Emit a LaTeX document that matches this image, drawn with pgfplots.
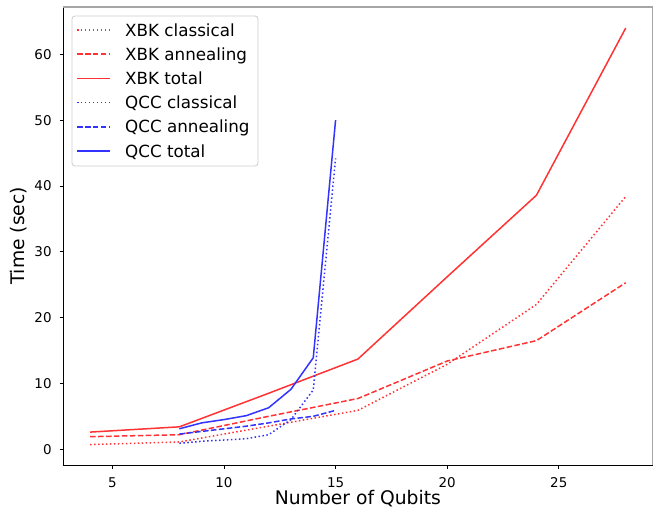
\documentclass[border=0pt]{standalone}
\usepackage{fontspec}
\setmainfont{DejaVu Sans}
\usepackage{pgfplots}
\usepackage{pgfplotstable}
\pgfplotsset{compat=1.18}
\usetikzlibrary{calc}

% pure red / blue at alpha 0.8 on white
\definecolor{mplred}{rgb}{1,0.2,0.2}
\definecolor{mplblue}{rgb}{0.2,0.2,1}

% columns: qubits, classical, annealing, total (sec)
\pgfplotstableread{
x   cl    an    tot
4   0.7   1.9   2.6
8   1.1   2.2   3.4
12  3.5   5.0   8.5
16  5.9   7.7   13.7
20  12.9  13.4  26.2
24  22.0  16.5  38.6
28  38.4  25.3  64.0
}\xbk

\pgfplotstableread{
x   cl    an    tot
8   0.9   2.3   3.1
9   1.2   2.7   4.0
10  1.4   3.1   4.5
11  1.6   3.5   5.1
12  2.2   4.0   6.3
13  4.5   4.6   9.1
14  9.0   5.0   13.9
15  44.2  5.9   50.0
}\qcc

\tikzset{
  mpl solid/.style={line width=1.5bp, solid},
  mpl dashed/.style={line width=1.5bp, dash pattern=on 5.55bp off 2.4bp},
  mpl dotted/.style={line width=1.5bp, dash pattern=on 1.5bp off 2.475bp},
  legtext/.style={anchor=base west, inner sep=0bp, font=\fontsize{16.8}{20}\selectfont},
}

\begin{document}
\begin{tikzpicture}
  \begin{axis}[
      name=ax, scale only axis, width=589.2bp, height=458bp,
      xmin=2.8, xmax=29.2, ymin=-2.4, ymax=67.2,
      axis lines*=left,
      axis line style={-, black, line width=0.8bp},
      tick pos=left, tick align=outside,
      major tick length=3.5bp,
      tick style={black, line width=0.8bp},
      xtick={5,10,...,25}, ytick={0,10,...,60},
      /pgf/number format/assume math mode=true,
      ticklabel style={font=\fontsize{13.5}{16}\selectfont, inner sep=0bp},
      xticklabel style={anchor=north, yshift=-9bp},
      yticklabel style={anchor=east, xshift=-8bp},
      xlabel={Number of Qubits},
      ylabel={Time (sec)},
      label style={font=\fontsize{18.8}{22}\selectfont, inner sep=0bp},
      xlabel style={at={(rel axis cs:0.5,0)}, anchor=north, yshift=-25bp},
      ylabel style={at={(rel axis cs:0,0.5)}, anchor=south, yshift=35.8bp},
    ]
    \addplot[draw=mplred, mpl dotted] table[x=x, y=cl] {\xbk};
    \addplot[draw=mplred, mpl dashed] table[x=x, y=an] {\xbk};
    \addplot[draw=mplred, mpl solid] table[x=x, y=tot] {\xbk};
    \addplot[draw=mplblue, mpl dotted] table[x=x, y=cl] {\qcc};
    \addplot[draw=mplblue, mpl dashed] table[x=x, y=an] {\qcc};
    \addplot[draw=mplblue, mpl solid] table[x=x, y=tot] {\qcc};
  \end{axis}
  \draw[black!35, line width=1.6bp] (ax.north west) -- (ax.north east) -- (ax.south east);

  % legend (upper left), laid out like matplotlib's
  \begin{scope}[shift={(ax.north west)}]
    \draw[black!20, line width=0.8bp, fill=white, rounded corners=3bp]
      (8.7bp,-9bp) rectangle (194.7bp,-159bp);
    \draw[mplred, mpl dotted]  (13.7bp,-23bp)    -- (46.7bp,-23bp);
    \draw[mplred, mpl dashed]  (13.7bp,-47.2bp)  -- (46.7bp,-47.2bp);
    \draw[mplred, mpl solid]   (13.7bp,-71.4bp)  -- (46.7bp,-71.4bp);
    \draw[mplblue, mpl dotted] (13.7bp,-95.6bp)  -- (46.7bp,-95.6bp);
    \draw[mplblue, mpl dashed] (13.7bp,-119.8bp) -- (46.7bp,-119.8bp);
    \draw[mplblue, mpl solid]  (13.7bp,-144bp)   -- (46.7bp,-144bp);
    \node[legtext] at (61.7bp,-29.1bp)  {XBK classical};
    \node[legtext] at (61.7bp,-53.3bp)  {XBK annealing};
    \node[legtext] at (61.7bp,-77.5bp)  {XBK total};
    \node[legtext] at (61.7bp,-101.7bp) {QCC classical};
    \node[legtext] at (61.7bp,-125.9bp) {QCC annealing};
    \node[legtext] at (61.7bp,-150.1bp) {QCC total};
  \end{scope}

  \pgfresetboundingbox
  \path ($(ax.south west)+(-63.3bp,-43bp)$) rectangle ($(ax.north east)+(2.5bp,7bp)$);
\end{tikzpicture}
\end{document}
